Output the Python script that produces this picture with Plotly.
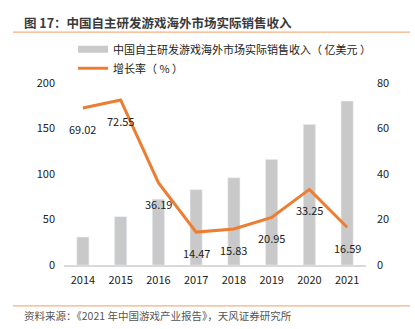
import plotly.graph_objects as go

years = ["2014", "2015", "2016", "2017", "2018", "2019", "2020", "2021"]
revenue = [30.76, 53.1, 72.35, 82.8, 95.9, 115.9, 154.5, 180.13]
growth = [69.02, 72.55, 36.19, 14.47, 15.83, 20.95, 33.25, 16.59]
growth_labels = ["69.02", "72.55", "36.19", "14.47", "15.83", "20.95", "33.25", "16.59"]

bar_name = "中国自主研发游戏海外市场实际销售收入（ 亿美元 ）"
line_name = "增长率（ % ）"

FONT = "Noto Sans CJK SC, Noto Sans, sans-serif"
BAR_COLOR = "#C9C9C9"
LINE_COLOR = "#ED7D31"

fig = go.Figure()
fig.add_trace(go.Bar(x=years, y=revenue, marker_color=BAR_COLOR, width=0.32,
                     showlegend=False, name=bar_name))
# legend proxy for bars (wide flat swatch)
fig.add_trace(go.Scatter(x=[years[0]], y=[None], mode="lines", name=bar_name,
                         line=dict(color=BAR_COLOR, width=7)))
fig.add_trace(go.Scatter(x=years, y=growth, mode="lines", name=line_name,
                         yaxis="y2", line=dict(color=LINE_COLOR, width=3)))

for i, (g, lab) in enumerate(zip(growth, growth_labels)):
    fig.add_annotation(x=i, y=g, xref="x", yref="y2", text=lab, showarrow=False,
                       yshift=-21, font=dict(size=11, color="#222222", family=FONT))

fig.update_layout(
    width=415, height=329,
    margin=dict(l=64, r=49, t=83, b=64),
    paper_bgcolor="white", plot_bgcolor="white",
    font=dict(family=FONT, size=11, color="#333333"),
    xaxis=dict(type="category", categoryorder="array", categoryarray=years,
               range=[-0.5, len(years) - 0.5],
               showgrid=False, showline=True, linecolor="#D9D9D9",
               linewidth=1.5, ticks="", tickfont=dict(size=11, color="#222222"),
               zeroline=False, ticklabelstandoff=4),
    yaxis=dict(range=[0, 200], dtick=50, showgrid=False, zeroline=False,
               showline=False, tickfont=dict(size=11, color="#222222"), ticklabelstandoff=8),
    yaxis2=dict(range=[0, 80], dtick=20, overlaying="y", side="right", showgrid=False,
                zeroline=False, showline=False, tickfont=dict(size=11, color="#222222"),
                ticklabelstandoff=10),
    legend=dict(x=0.03, y=1.265, xanchor="left", yanchor="top", orientation="v",
                font=dict(size=11, color="#222222", family=FONT),
                bgcolor="rgba(0,0,0,0)", itemwidth=30, tracegroupgap=0),
)

# title, separators and source
fig.add_annotation(xref="paper", yref="paper", x=-0.139, y=1.335, xanchor="left", yanchor="middle",
                   text="<b>图 17：中国自主研发游戏海外市场实际销售收入</b>", showarrow=False,
                   font=dict(size=12.5, color="#3A3A3A", family=FONT))
fig.add_shape(type="line", xref="paper", yref="paper", x0=-0.169, x1=1.146, y0=1.28, y1=1.28,
              line=dict(color="#F4B183", width=1.2))
fig.add_shape(type="line", xref="paper", yref="paper", x0=-0.169, x1=1.146, y0=-0.225, y1=-0.225,
              line=dict(color="#F4B183", width=1.2))
fig.add_annotation(xref="paper", yref="paper", x=-0.139, y=-0.28, xanchor="left", yanchor="middle",
                   text="资料来源：《2021 年中国游戏产业报告》，天风证券研究所", showarrow=False,
                   font=dict(size=10.5, color="#555555", family=FONT))

fig.write_html("out.html")
